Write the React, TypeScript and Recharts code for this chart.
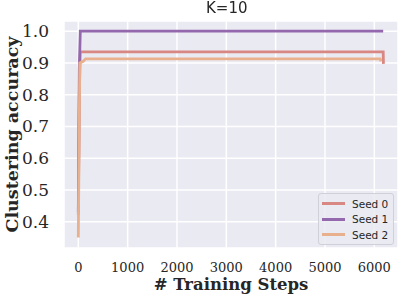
import { LineChart, Line, XAxis, YAxis, CartesianGrid, Label } from "recharts";

const xTicks = [0, 1000, 2000, 3000, 4000, 5000, 6000];
const yTicks = [0.4, 0.5, 0.6, 0.7, 0.8, 0.9, 1.0];

const seed0 = [
  { step: 0, acc: 0.42 },
  { step: 20, acc: 0.8 },
  { step: 40, acc: 0.935 },
  { step: 6180, acc: 0.935 },
  { step: 6185, acc: 0.897 },
];
const seed1 = [
  { step: 0, acc: 0.43 },
  { step: 20, acc: 0.88 },
  { step: 40, acc: 1.0 },
  { step: 6180, acc: 1.0 },
];
const seed2 = [
  { step: 0, acc: 0.35 },
  { step: 30, acc: 0.9 },
  { step: 100, acc: 0.905 },
  { step: 150, acc: 0.913 },
  { step: 6120, acc: 0.913 },
  { step: 6135, acc: 0.905 },
];

const series = [
  { name: "Seed 0", data: seed0, color: "#d98783" },
  { name: "Seed 1", data: seed1, color: "#9468ad" },
  { name: "Seed 2", data: seed2, color: "#e9b08e" },
];

// legend drawn as a plain box so it doesn't steal space from the plot
const LegendBox = () => (
  <div
    style={{
      position: "absolute",
      left: 318,
      top: 193,
      border: "1px solid #d0d0d8",
      borderRadius: 3,
      background: "rgba(234,234,242,0.85)",
      padding: "2px 3px 1px 3px",
      fontFamily: "DejaVu Sans",
      fontSize: 10.5,
      color: "#262626",
      width: 68,
    }}
  >
    {series.map((s) => (
      <div key={s.name} style={{ display: "flex", alignItems: "center", height: 15.5 }}>
        <div style={{ width: 23, height: 3, background: s.color, marginRight: 7 }} />
        <span>{s.name}</span>
      </div>
    ))}
  </div>
);

export default function App() {
  return (
    <div style={{ position: "fixed", left: 0, top: 0, width: 399, height: 295, background: "#fff" }}>
      <LineChart width={399} height={295} margin={{ top: 21, right: 1, left: 0, bottom: 0 }}>
        <CartesianGrid fill="#eaeaf2" stroke="#ffffff" strokeWidth={1.5} />
        <XAxis
          type="number"
          dataKey="step"
          domain={[-290, 6480]}
          ticks={xTicks}
          interval={0}
          allowDataOverflow
          axisLine={false}
          tickLine={false}
          height={47}
          tickMargin={9}
          tick={{ fontFamily: "DejaVu Serif", fontSize: 13, fill: "#262626" }}
        >
          <Label
            value="# Training Steps"
            position="insideBottom"
            offset={5}
            style={{ fontFamily: "DejaVu Serif", fontWeight: "bold", fontSize: 16.5, fill: "#262626" }}
          />
        </XAxis>
        <YAxis
          type="number"
          domain={[0.317, 1.032]}
          ticks={yTicks}
          interval={0}
          allowDataOverflow
          axisLine={false}
          tickLine={false}
          width={64}
          tickMargin={9}
          tickFormatter={(v: number) => v.toFixed(1)}
          tick={{ fontFamily: "DejaVu Serif", fontSize: 17, fill: "#262626" }}
        >
          <Label
            value="Clustering accuracy"
            angle={-90}
            position="insideLeft"
            offset={12}
            style={{ textAnchor: "middle", fontFamily: "DejaVu Serif", fontWeight: "bold", fontSize: 17.5, fill: "#262626" }}
          />
        </YAxis>
        {series.map((s) => (
          <Line
            key={s.name}
            data={s.data}
            dataKey="acc"
            name={s.name}
            type="linear"
            stroke={s.color}
            strokeWidth={2.8}
            dot={false}
            isAnimationActive={false}
          />
        ))}
      </LineChart>
      <div
        style={{
          position: "absolute",
          left: 206,
          top: 0,
          fontFamily: "DejaVu Sans",
          fontSize: 15,
          lineHeight: "16px",
          color: "#262626",
        }}
      >
        K=10
      </div>
      <LegendBox />
    </div>
  );
}
